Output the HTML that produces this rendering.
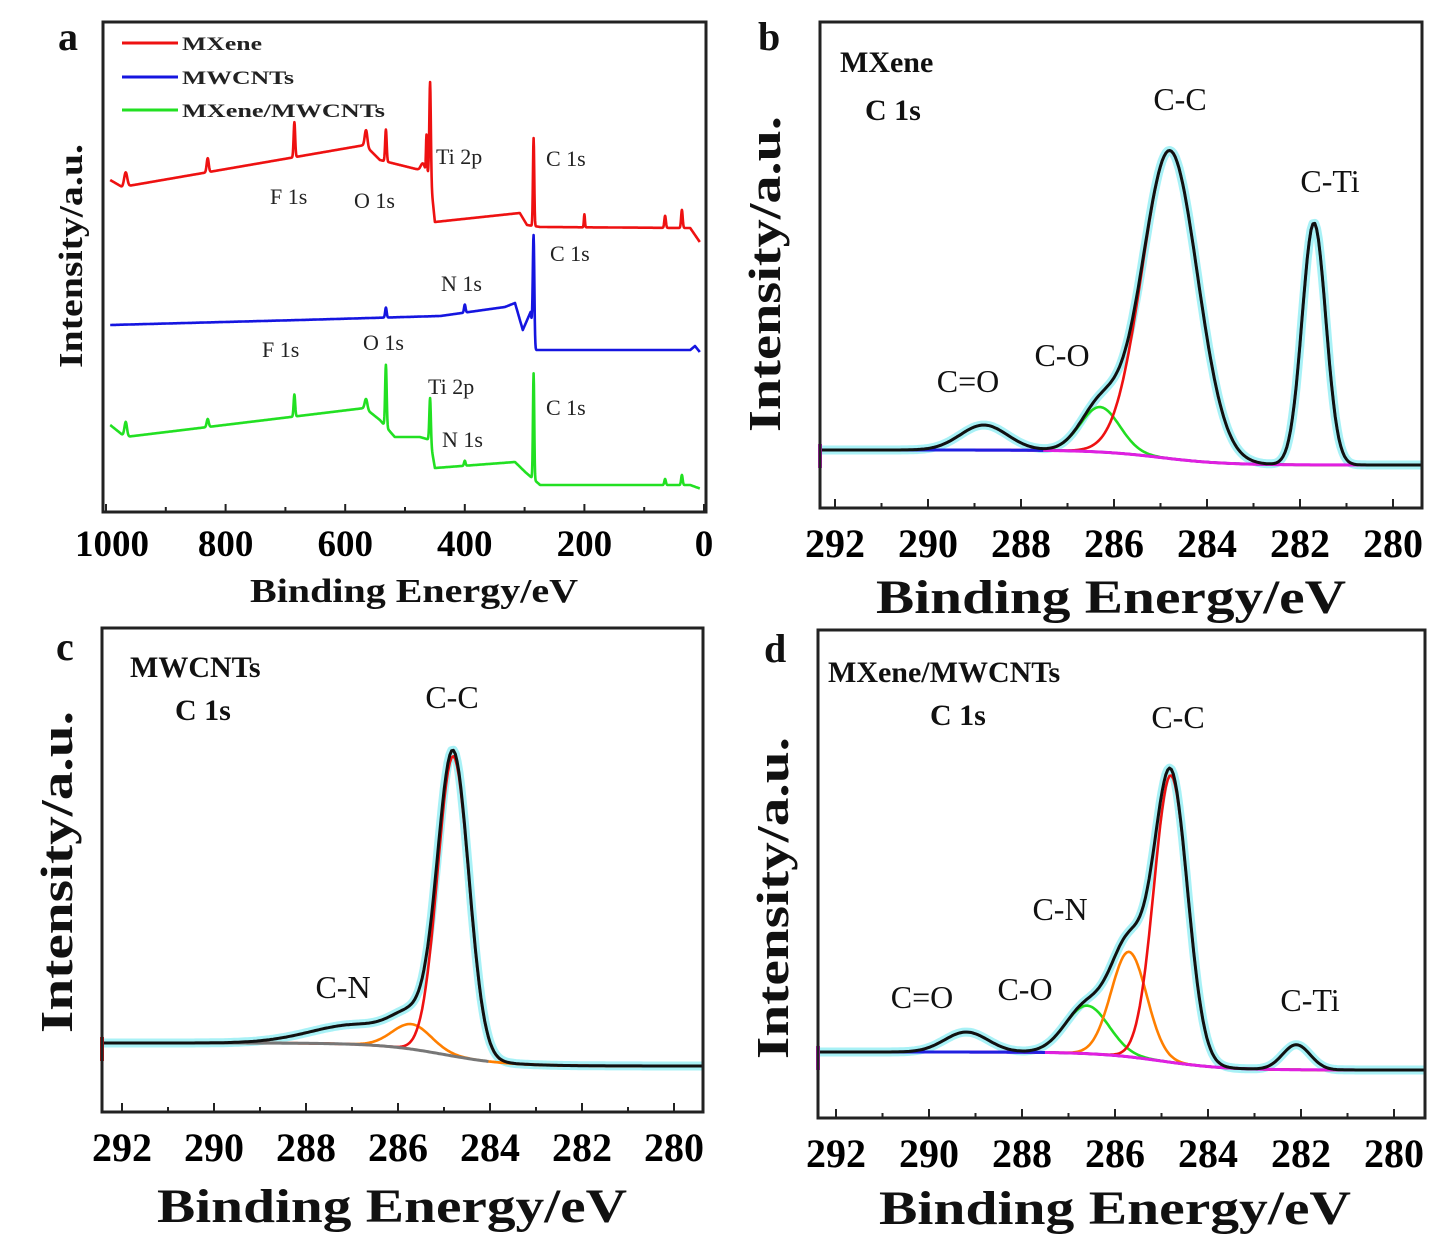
<!DOCTYPE html>
<html><head><meta charset="utf-8"><style>
html,body{margin:0;padding:0;background:#fff;}
svg{display:block;font-family:"Liberation Serif",serif;}
</style></head><body>
<svg id="fig" width="1441" height="1250" viewBox="0 0 1441 1250" xmlns="http://www.w3.org/2000/svg"></svg>
<script>
// ===== Panel a: survey spectra (BE eV, intensity a.u.) =====
const surveyTicks = [1000, 800, 600, 400, 200, 0];
const redBg = [[1000,332],[993,332],[973,325],[567,367],[542,352],[475,342],[458,337],[450,290],[308,299],[296,287],[274,285],[23,284],[7,270],[0,270]];
const redPeaks = [[967,14,6],[830,14,4],[685,35,3],[565,16,5],[532,32,3],[470,8,8],[458,93,3],[464,37,2],[285,88,2.5],[200,13,2],[65,12,3],[37,18,3]];
const blueBg = [[1000,187],[993,187],[675,192],[441,196],[333,205],[316,209],[303,182],[290,200],[283,162],[23,162],[15,166],[7,160],[0,160]];
const bluePeaks = [[532,10,3],[400,8,3],[285,104,3]];
const greenBg = [[1000,87],[993,87],[968,75],[567,104],[542,92],[517,75],[475,75],[458,72],[450,44],[316,50],[299,40],[274,27],[23,27],[0,22]];
const greenPeaks = [[967,15,5],[830,8,4],[685,22,3],[565,10,5],[532,62,3],[400,5,3],[458,42,3],[285,106,2.5],[65,6,3],[37,10,3]];

// ===== Panels b,c,d: C 1s fits [center eV, amplitude, fwhm] =====
const hrTicks = [292, 290, 288, 286, 284, 282, 280];
const bBase = [62, 47];
const bCO2 = [288.8, 25, 1.2];
const bCO = [286.3, 45, 1.0];
const bCC = [284.8, 308, 1.4];
const bCTi = [281.7, 242, 0.6];
const cBase = [69, 46];
const cCN = [285.7, 25, 1.0];
const cCC = [284.8, 300, 0.8];
const cTail = [286.8, 20, 2.5];
const dBase = [66, 48];
const dCO2 = [289.2, 20, 1.1];
const dCO = [286.6, 48, 1.1];
const dCN = [285.7, 105, 0.9];
const dCC = [284.8, 287, 0.85];
const dCTi = [282.1, 25, 0.7];

const NS = "http://www.w3.org/2000/svg";
const svg = document.getElementById('fig');
function mk(tag, attrs, parent){const e=document.createElementNS(NS,tag);for(const k in attrs)e.setAttribute(k,attrs[k]);(parent||svg).appendChild(e);return e;}
function txt(s, attrs, parent){const e=mk('text',attrs,parent);e.textContent=s;return e;}
function gauss(E,p){return p[1]*Math.exp(-4*Math.LN2*(E-p[0])*(E-p[0])/(p[2]*p[2]));}
function interp(E,pts){for(let i=0;i<pts.length-1;i++){const a=pts[i],b=pts[i+1];if(E<=a[0]&&E>=b[0]){const t=(a[0]-E)/(a[0]-b[0]||1);return a[1]+t*(b[1]-a[1]);}}return pts[pts.length-1][1];}
function step(E,base){const s=1/(1+Math.exp(-(E-285)/0.7));return base[1]+(base[0]-base[1])*s;}

// ---------- panel a ----------
const A={x0:103,x1:706,y0:22,y1:512};
const ax=E=>704-0.598*E, ay=v=>512-v;
const ga=mk('g',{});
const surveys=[[redBg,redPeaks,'#ee1111','mxene-survey'],[blueBg,bluePeaks,'#1515e0','mwcnts-survey'],[greenBg,greenPeaks,'#22e022','composite-survey']];
surveys.forEach(s=>{let d='';for(let E=993;E>=7;E-=0.5){let v=interp(E,s[0]);s[1].forEach(p=>v+=gauss(E,p));d+=(d?'L':'M')+ax(E).toFixed(1)+','+ay(v).toFixed(1);}
 const p=mk('path',{d:d,fill:'none',stroke:s[2],'stroke-width':2.6,'stroke-linejoin':'round'},ga);});
const fa=mk('rect',{x:A.x0,y:A.y0,width:A.x1-A.x0,height:A.y1-A.y0,fill:'none',stroke:'#222','stroke-width':3},ga);

for(let E=1000;E>=0;E-=100){mk('line',{x1:ax(E),x2:ax(E),y1:A.y1,y2:A.y1-(E%200===0?8:5),stroke:'#222','stroke-width':2},ga);}
surveyTicks.forEach(t=>{const e=txt(String(t),{x:ax(t)+(t===1000?6:0),y:556,'font-size':37,'font-weight':'bold','text-anchor':'middle'},ga);});
[['MXene','#ee1111',43,80],['MWCNTs','#1515e0',77,112],['MXene/MWCNTs','#22e022',110,203]].forEach(l=>{
 const g=mk('g',{},ga);
 mk('line',{x1:122,x2:178,y1:l[2],y2:l[2],stroke:l[1],'stroke-width':3},g);
 txt(l[0],{x:182,y:l[2]+7,'font-size':19,'font-weight':'bold',fill:'#222',textLength:l[3],lengthAdjust:'spacingAndGlyphs'},g);});
[['F 1s',270,204],['O 1s',354,208],['Ti 2p',436,164],['C 1s',546,166],['C 1s',550,261],['N 1s',441,291],['F 1s',262,357],['O 1s',363,350],['Ti 2p',428,394],['C 1s',546,415],['N 1s',442,447]].forEach(l=>{
 const e=txt(l[0],{x:l[1],y:l[2],'font-size':22,fill:'#222'},ga);});

// ---------- high-res panels ----------
function hrPanel(name,F,x292,pxPer2,baseY,base,comps,extra,showBlue){
 const g=mk('g',{});
 const X=E=>x292+(292-E)*pxPer2/2, Y=v=>baseY-v;
 const Emax=292-(F.x0-x292)/(pxPer2/2), Emin=292-(F.x1-x292)/(pxPer2/2);
 function path(fn,col,w,nm,op,lo,hi){lo=lo===undefined?Emin:lo;hi=hi===undefined?Emax:hi;let d='';for(let E=hi;E>=lo;E-=0.04){d+=(d?'L':'M')+X(E).toFixed(1)+','+Y(fn(E)).toFixed(1);}
  const p=mk('path',{d:d,fill:'none',stroke:col,'stroke-width':w,'stroke-linejoin':'round',opacity:op||1},g);return p;}
 const env=E=>{let v=step(E,base);comps.forEach(c=>v+=gauss(E,c[0]));extra.forEach(c=>v+=gauss(E,c));return v;};
 path(env,'#9eeff5',9,'raw-data',0.9);
 comps.forEach(c=>path(E=>step(E,base)+gauss(E,c[0]),c[1],2.6,c[2]));
 path(E=>step(E,base),showBlue?'#e020e0':'#777',3,'baseline',1,showBlue?Emin:284,Emax);
 if(showBlue){path(E=>step(E,base),'#2020e0',3,'baseline-blue',1,287.5,Emax);}
 else{path(E=>step(E,base),'#ff7f00',2.5,'baseline-right',1,Emin,284);}
 path(env,'#111',3,'fit-envelope');
 mk('line',{x1:F.x0,x2:F.x0,y1:Y(base[0])-6,y2:Y(base[0])+18,stroke:showBlue?'#e020e0':'#ee1111','stroke-width':4},g);
 const fr=mk('rect',{x:F.x0,y:F.y0,width:F.x1-F.x0,height:F.y1-F.y0,fill:'none',stroke:'#222','stroke-width':3},g);
 for(let E=292;E>=Emin;E-=1){mk('line',{x1:X(E),x2:X(E),y1:F.y1,y2:F.y1-(E%2===0?9:5),stroke:'#222','stroke-width':2},g);}
 hrTicks.forEach(t=>{const e=txt(String(t),{x:X(t),y:F.y1+49,'font-size':40,'font-weight':'bold','text-anchor':'middle'},g);});
 return g;
}
hrPanel('panel-b',{x0:820,x1:1422,y0:22,y1:508},835,93,512,bBase,[[bCO2,'#2060e0','c-o-double-peak'],[bCO,'#22dd22','c-o-peak'],[bCC,'#ee1111','c-c-peak'],[bCTi,'#1515a0','c-ti-peak']],[],true);
hrPanel('panel-c',{x0:102,x1:703,y0:628,y1:1112},122,92,1112,cBase,[[cCN,'#ff7f00','c-n-peak'],[cCC,'#ee1111','c-c-peak']],[cTail],false);
hrPanel('panel-d',{x0:818,x1:1425,y0:630,y1:1118},836,93,1118,dBase,[[dCO2,'#2020e0','c-o-double-peak'],[dCO,'#22dd22','c-o-peak'],[dCN,'#ff7f00','c-n-peak'],[dCC,'#ee1111','c-c-peak'],[dCTi,'#1515a0','c-ti-peak']],[],true);

function lab(s,x,y,size,bold,nm,anchor,len){const e=txt(s,{x:x,y:y,'font-size':size,'font-weight':bold?'bold':'normal',fill:'#111','text-anchor':anchor||'start'});if(len){e.setAttribute('textLength',len);e.setAttribute('lengthAdjust','spacingAndGlyphs');}return e;}
function ylab(x,yc,size,len){const e=txt('Intensity/a.u.',{x:0,y:0,'font-size':size,'font-weight':'bold',fill:'#111','text-anchor':'middle',transform:`translate(${x},${yc}) rotate(-90)`,textLength:len,lengthAdjust:'spacingAndGlyphs'});}
lab('a',58,50,40,true,'panel-label-a');lab('b',758,50,40,true,'panel-label-b');
lab('c',56,660,40,true,'panel-label-c');lab('d',764,662,40,true,'panel-label-d');
lab('Binding Energy/eV',414,602,34,true,'x-axis-title','middle',328);
lab('Binding Energy/eV',1111,613,48,true,'x-axis-title','middle',470);
lab('Binding Energy/eV',392,1222,48,true,'x-axis-title','middle',470);
lab('Binding Energy/eV',1115,1224,48,true,'x-axis-title','middle',472);
ylab(82,256,34,224);ylab(780,274,46,316);ylab(72,872,46,322);ylab(788,898,46,322);
lab('MXene',840,72,30,true,'sample-label');lab('C 1s',865,120,30,true,'core-level-label');
lab('C-C',1180,110,32,false,'peak-label','middle');lab('C-Ti',1330,192,32,false,'peak-label','middle');
lab('C-O',1062,366,32,false,'peak-label','middle');lab('C=O',968,392,32,false,'peak-label','middle');
lab('MWCNTs',130,677,30,true,'sample-label');lab('C 1s',175,720,30,true,'core-level-label');
lab('C-C',452,708,32,false,'peak-label','middle');lab('C-N',343,998,32,false,'peak-label','middle');
lab('MXene/MWCNTs',828,682,30,true,'sample-label');lab('C 1s',930,725,30,true,'core-level-label');
lab('C-C',1178,728,32,false,'peak-label','middle');lab('C-N',1060,920,32,false,'peak-label','middle');
lab('C-O',1025,1000,32,false,'peak-label','middle');lab('C=O',922,1008,32,false,'peak-label','middle');
lab('C-Ti',1310,1011,32,false,'peak-label','middle');
</script>
</body></html>
